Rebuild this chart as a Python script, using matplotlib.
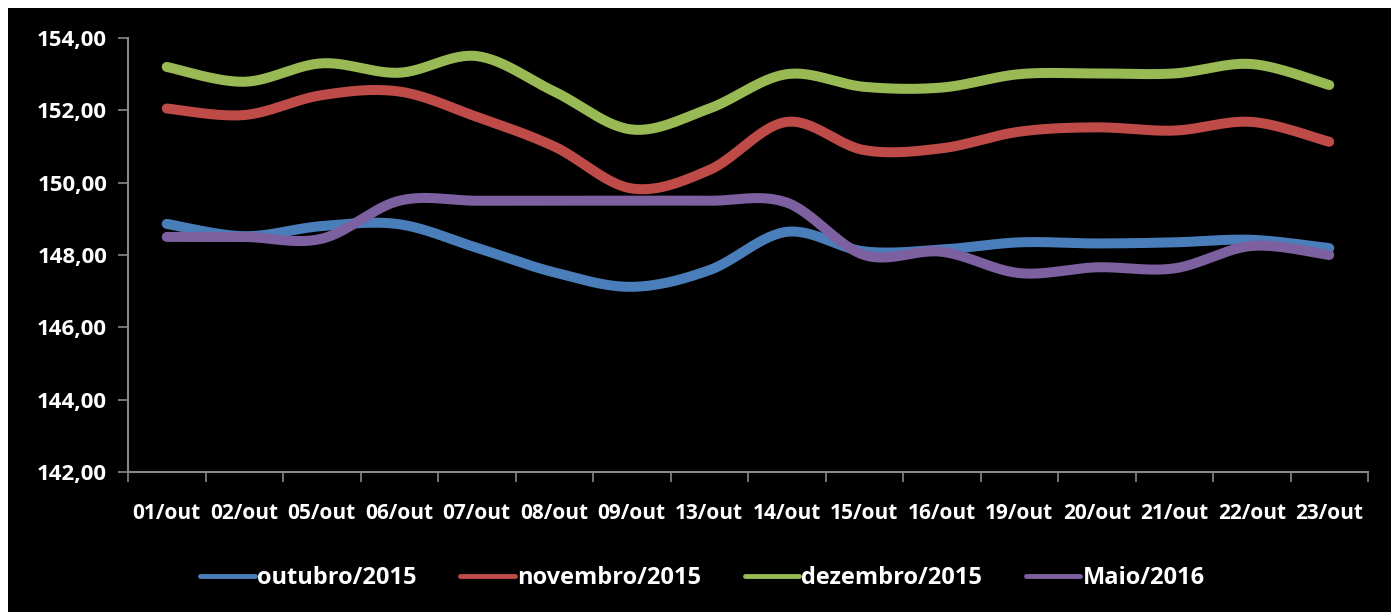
import numpy as np
import matplotlib
matplotlib.use("Agg")
import matplotlib.pyplot as plt
from matplotlib import font_manager

categories = ["01/out", "02/out", "05/out", "06/out", "07/out", "08/out", "09/out", "13/out",
              "14/out", "15/out", "16/out", "19/out", "20/out", "21/out", "22/out", "23/out"]
outubro = [148.86, 148.52, 148.80, 148.85, 148.20, 147.52, 147.12, 147.58,
           148.64, 148.10, 148.15, 148.35, 148.32, 148.35, 148.42, 148.19]
novembro = [152.05, 151.87, 152.42, 152.52, 151.82, 151.00, 149.84, 150.35,
            151.68, 150.90, 150.95, 151.41, 151.53, 151.44, 151.68, 151.13]
dezembro = [153.20, 152.79, 153.30, 153.04, 153.50, 152.52, 151.47, 152.05,
            153.00, 152.65, 152.63, 153.00, 153.02, 153.02, 153.28, 152.70]
maio = [148.50, 148.50, 148.45, 149.50, 149.50, 149.50, 149.50, 149.50,
        149.45, 148.00, 148.09, 147.50, 147.66, 147.63, 148.25, 148.00]
series_names = ["outubro/2015", "novembro/2015", "dezembro/2015", "Maio/2016"]
colors = ["#4A7EBB", "#BE4B48", "#98B954", "#7D60A0"]
yticks = [142, 144, 146, 148, 150, 152, 154]

avail = {f.name for f in font_manager.fontManager.ttflist}
fam = [f for f in ["Liberation Sans Narrow", "Open Sans", "DejaVu Sans"] if f in avail]
plt.rcParams['font.family'] = fam


def smooth(y, n=30):
    # Excel-style smoothed line (Catmull-Rom Bezier) through data points
    y = np.asarray(y, float)
    x = np.arange(len(y), dtype=float)
    xs, ys = [], []
    for i in range(len(y) - 1):
        p0 = (x[max(i - 1, 0)], y[max(i - 1, 0)])
        p1 = (x[i], y[i])
        p2 = (x[i + 1], y[i + 1])
        p3 = (x[min(i + 2, len(y) - 1)], y[min(i + 2, len(y) - 1)])
        c1 = (p1[0] + (p2[0] - p0[0]) / 6, p1[1] + (p2[1] - p0[1]) / 6)
        c2 = (p2[0] - (p3[0] - p1[0]) / 6, p2[1] - (p3[1] - p1[1]) / 6)
        t = np.linspace(0, 1, n, endpoint=(i == len(y) - 2))
        for a, b, c, d, out in ((p1[0], c1[0], c2[0], p2[0], xs), (p1[1], c1[1], c2[1], p2[1], ys)):
            out.extend((1 - t) ** 3 * a + 3 * (1 - t) ** 2 * t * b + 3 * (1 - t) * t ** 2 * c + t ** 3 * d)
    return np.array(xs), np.array(ys)


fig = plt.figure(figsize=(13.97, 6.12), dpi=100, facecolor="white")
bg = fig.add_axes([8 / 1397, 0, (1391 - 8) / 1397, (612 - 8) / 612])
bg.set_facecolor("black")
bg.set_xticks([]); bg.set_yticks([])
for s in bg.spines.values():
    s.set_visible(False)

ax = fig.add_axes([128 / 1397, 1 - 472 / 612, (1368 - 128) / 1397, (472 - 38) / 612])
ax.set_facecolor("none")
for name, vals, col in zip(series_names, [outubro, novembro, dezembro, maio], colors):
    xs, ys = smooth(vals)
    ax.plot(xs, ys, color=col, lw=7.2, solid_capstyle="round", solid_joinstyle="round", label=name)

ax.set_xlim(-0.5, len(categories) - 0.5)
ax.set_ylim(142, 154)
ax.set_yticks(yticks)
ax.set_yticklabels([f"{v:.2f}".replace(".", ",") for v in yticks])
ax.set_xticks(np.arange(len(categories)))
ax.set_xticklabels(categories)
ax.set_xticks(np.arange(len(categories) + 1) - 0.5, minor=True)
ax.tick_params(axis="x", which="major", length=0, pad=22)
ax.tick_params(axis="x", which="minor", length=7, width=1.2, color="#888888", direction="out")
ax.tick_params(axis="y", length=7, width=1.2, color="#888888", direction="out", pad=8)
for lab in ax.get_xticklabels():
    lab.set_color("white")
    lab.set_fontweight("bold")
    lab.set_fontsize(15)
for lab in ax.get_yticklabels():
    lab.set_color("white")
    lab.set_fontweight("bold")
    lab.set_fontsize(16)
for side in ["top", "right"]:
    ax.spines[side].set_visible(False)
for side in ["left", "bottom"]:
    ax.spines[side].set_color("#888888")
    ax.spines[side].set_linewidth(1.5)

leg = fig.legend(loc="center", bbox_to_anchor=(0.5 + 4 / 1397, 1 - 578 / 612), ncol=4, frameon=False,
                 handlelength=2.3, handletextpad=0.1, columnspacing=1.85,
                 prop={"weight": "bold", "size": 17})
for h in leg.get_lines():
    h.set_linewidth(3.5)
for t in leg.get_texts():
    t.set_color("white")

fig.savefig("out.png", dpi=100, facecolor="white")
